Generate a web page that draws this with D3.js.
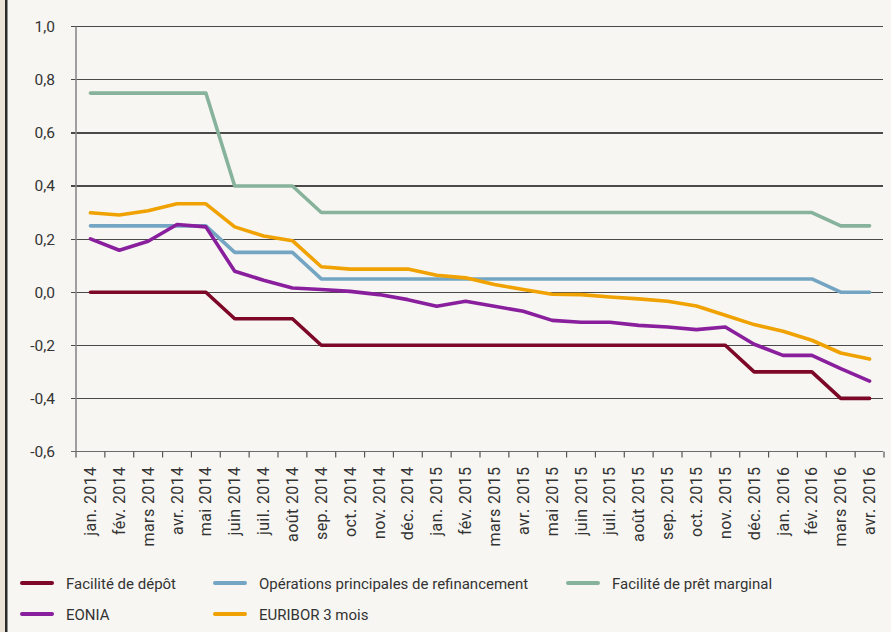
<!DOCTYPE html>
<html><head><meta charset="utf-8">
<script src="https://cdn.jsdelivr.net/npm/d3@7"></script>
<style>
html,body{margin:0;padding:0;background:#f7f6f2;}
svg{display:block;font-family:Roboto,"DejaVu Sans",sans-serif;}
</style></head>
<body>
<svg id="chart" width="891" height="632"></svg>
<script>
const months = ["jan. 2014","fév. 2014","mars 2014","avr. 2014","mai 2014","juin 2014","juil. 2014","août 2014","sep. 2014","oct. 2014","nov. 2014","déc. 2014",
"jan. 2015","fév. 2015","mars 2015","avr. 2015","mai 2015","juin 2015","juil. 2015","août 2015","sep. 2015","oct. 2015","nov. 2015","déc. 2015",
"jan. 2016","fév. 2016","mars 2016","avr. 2016"];
const depot = [0,0,0,0,0,-0.10,-0.10,-0.10,-0.20,-0.20,-0.20,-0.20,-0.20,-0.20,-0.20,-0.20,-0.20,-0.20,-0.20,-0.20,-0.20,-0.20,-0.20,-0.30,-0.30,-0.30,-0.40,-0.40];
const refi = [0.25,0.25,0.25,0.25,0.25,0.15,0.15,0.15,0.05,0.05,0.05,0.05,0.05,0.05,0.05,0.05,0.05,0.05,0.05,0.05,0.05,0.05,0.05,0.05,0.05,0.05,0.00,0.00];
const marginal = [0.75,0.75,0.75,0.75,0.75,0.40,0.40,0.40,0.30,0.30,0.30,0.30,0.30,0.30,0.30,0.30,0.30,0.30,0.30,0.30,0.30,0.30,0.30,0.30,0.30,0.30,0.25,0.25];
const eonia = [0.201,0.158,0.192,0.255,0.246,0.079,0.045,0.016,0.010,0.003,-0.009,-0.028,-0.053,-0.034,-0.053,-0.072,-0.106,-0.113,-0.113,-0.125,-0.131,-0.141,-0.131,-0.196,-0.238,-0.238,-0.288,-0.335];
const euribor = [0.299,0.291,0.307,0.333,0.333,0.246,0.212,0.194,0.096,0.087,0.087,0.087,0.064,0.054,0.029,0.010,-0.008,-0.009,-0.018,-0.025,-0.034,-0.052,-0.087,-0.122,-0.147,-0.181,-0.229,-0.252];
const yTicks = [1.0,0.8,0.6,0.4,0.2,0.0,-0.2,-0.4,-0.6];

const seriesList = [
  {name:"Facilité de dépôt", values:depot, color:"#7d0726"},
  {name:"Opérations principales de refinancement", values:refi, color:"#74a6c3"},
  {name:"Facilité de prêt marginal", values:marginal, color:"#87b29b"},
  {name:"EONIA", values:eonia, color:"#8a1f9e"},
  {name:"EURIBOR 3 mois", values:euribor, color:"#f0a202"}
];
const drawOrder = [2,1,4,3,0];

const svg = d3.select("#chart");
svg.append("rect").attr("x",0).attr("y",0).attr("width",891).attr("height",632).attr("fill","#f7f6f2");
svg.append("rect").attr("x",0).attr("y",0).attr("width",5).attr("height",632).attr("fill","#ebe3d5");
svg.append("rect").attr("x",5).attr("y",0).attr("width",2.5).attr("height",632).attr("fill","#2a2a2a");

const pLeft = 76, pRight = 884, pTop = 26.7, pBottom = 451.5;
const x = d3.scaleBand().domain(months).range([pLeft,pRight]).padding(0);
const y = d3.scaleLinear().domain([-0.6,1.0]).range([pBottom,pTop]);
const fmt = v => d3.format(".1f")(v).replace(".",",").replace("−","-");

// gridlines
svg.append("g").selectAll("line").data(yTicks).join("line")
  .attr("x1",71).attr("x2",pRight-1).attr("y1",d=>y(d)).attr("y2",d=>y(d))
  .attr("stroke",d=>d===-0.6?"#6b6b6b":"#4a4a4a").attr("stroke-width",1.2)
  .attr("shape-rendering","crispEdges");

// y axis
const yAxis = svg.append("g").attr("transform",`translate(${pLeft},0)`)
  .call(d3.axisLeft(y).tickValues(yTicks).tickFormat(fmt).tickSize(0).tickPadding(21));
yAxis.select(".domain").remove();
yAxis.selectAll("text").attr("font-size",15.5).attr("fill","#333").attr("font-family","Roboto");
svg.append("line").attr("x1",pLeft).attr("x2",pLeft).attr("y1",pTop).attr("y2",pBottom)
  .attr("stroke","#8a8a8a").attr("stroke-width",1.6);

// x axis
const xAxis = svg.append("g").attr("transform",`translate(0,${pBottom})`)
  .call(d3.axisBottom(x).tickSize(0));
xAxis.select(".domain").remove();
xAxis.selectAll("text").remove();
const bounds = months.map((m,i)=>x(m)).concat([pRight]);
xAxis.append("g").selectAll("line").data(bounds).join("line")
  .attr("x1",d=>d).attr("x2",d=>d).attr("y1",0).attr("y2",6)
  .attr("stroke","#555").attr("stroke-width",1.2);
xAxis.append("g").selectAll("text").data(months).join("text")
  .attr("transform",d=>`translate(${x(d)+x.bandwidth()/2+5.5},15) rotate(-90)`)
  .attr("text-anchor","end").attr("font-size",16).attr("fill","#333")
  .attr("letter-spacing",0.4)
  .attr("font-family","Roboto")
  .text(d=>d);

// lines
const line = d3.line().x((d,i)=>x(months[i])+x.bandwidth()/2).y(d=>y(d)).curve(d3.curveLinear);
svg.append("g").selectAll("path").data(drawOrder.map(i=>seriesList[i])).join("path")
  .attr("d",d=>line(d.values)).attr("fill","none")
  .attr("stroke",d=>d.color).attr("stroke-width",3.6)
  .attr("stroke-linejoin","round").attr("stroke-linecap","round");

// legend
const legendPos = [[22,583],[215,583],[568,583],[22,614],[215,614]];
const lg = svg.append("g").selectAll("g").data(seriesList).join("g")
  .attr("transform",(d,i)=>`translate(${legendPos[i][0]},${legendPos[i][1]})`);
lg.append("line").attr("x1",0).attr("x2",30).attr("y1",0).attr("y2",0)
  .attr("stroke",d=>d.color).attr("stroke-width",4).attr("stroke-linecap","round");
lg.append("text").attr("x",44).attr("y",5.5).attr("font-size",15).attr("fill","#333")
  .attr("font-family","Roboto").text(d=>d.name);
</script>
</body></html>
